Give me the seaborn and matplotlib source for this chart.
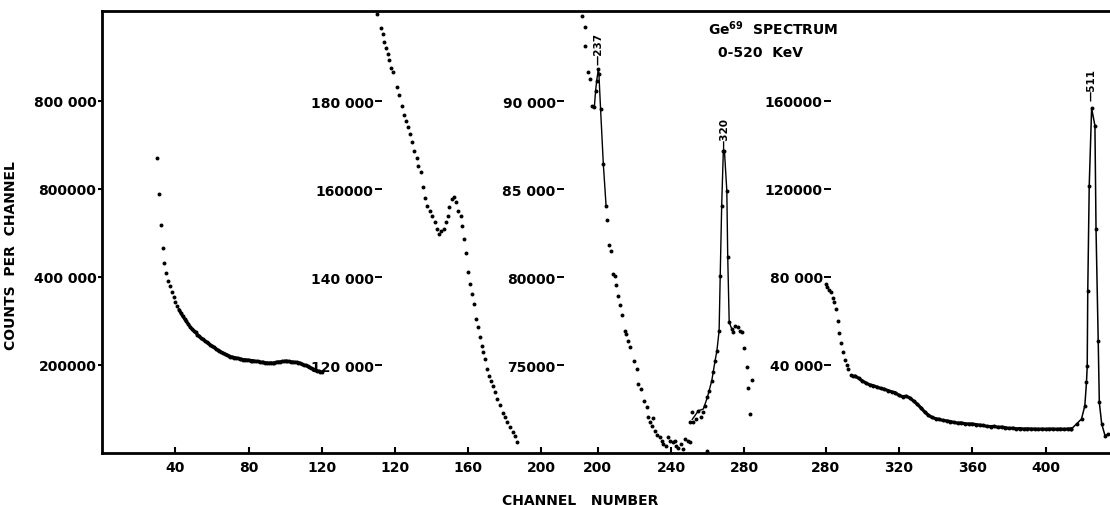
import matplotlib
matplotlib.use("Agg")
import matplotlib.pyplot as plt
import seaborn as sns
import pandas as pd

# ---------------- data ----------------
# Segment 1 : 0-120 channels, left scale 0 - 1 000 000
seg1_ch = list(range(30, 121))
seg1_counts = [670, 589, 519, 466, 432, 409, 392, 379, 367, 355, 344, 335, 326, 318, 311,
               305, 299, 293, 287, 282, 278, 274, 269, 265, 261, 258, 255, 252, 249, 246,
               243, 240, 237, 234, 232, 229, 227, 225, 223, 221, 219, 218, 217, 216, 215,
               214, 213, 212, 212, 211, 211, 210, 210, 209, 208, 208, 207, 206, 206, 205,
               205, 204, 205, 204, 205, 206, 207, 207, 208, 208, 209, 208, 208, 207, 207,
               206, 206, 205, 204, 202, 200, 199, 197, 195, 193, 191, 189, 187, 186, 185, 183]
seg1_counts = [v * 1000 for v in seg1_counts]

# Segment 2 : 120-200 channels, scale 100 000 - 200 000
seg2_ch = [110.5, 112.5, 113.5, 114.4, 115.2, 116.2, 116.9, 118.2, 119.3, 121.1, 122.5, 124.2,
           125.1, 126.2, 127.1, 128.3, 129.6, 130.7, 132.0, 132.9, 134.2, 135.3, 136.5, 137.8,
           139.2, 140.5, 142.0, 142.9, 144.2, 145.3, 146.9, 148.0, 148.9, 149.8, 151.1, 152.3,
           153.4, 154.7, 155.9, 156.8, 157.9, 159.0, 160.1, 161.0, 162.1, 163.2, 164.3, 165.4,
           166.5, 167.4, 168.3, 169.4, 170.5, 171.4, 172.3, 173.4, 174.6, 175.9, 177.4, 178.9,
           180.1, 181.4, 182.9, 184.3, 185.6, 186.8]
seg2_counts = [199.8, 196.5, 195.2, 193.5, 192.0, 190.7, 189.4, 187.5, 186.5, 183.2, 181.4, 178.9,
               176.8, 175.5, 174.0, 172.5, 170.6, 168.7, 167.0, 165.3, 163.8, 160.4, 157.9, 156.2,
               155.1, 153.8, 152.4, 150.9, 149.8, 150.5, 150.9, 152.4, 153.9, 155.8, 157.7, 158.1,
               157.0, 155.1, 153.9, 151.7, 148.6, 145.4, 141.2, 138.4, 136.1, 133.9, 130.5, 128.6,
               126.3, 124.4, 122.9, 121.4, 119.1, 117.6, 116.4, 115.3, 113.8, 112.3, 110.8, 109.2,
               108.1, 107.0, 105.8, 104.7, 103.9, 102.4]
seg2_counts = [v * 1000 for v in seg2_counts]

# Segment 3 : 200-280 channels, scale 70 000 - 95 000
seg3_ch = [191.6, 193.1, 193.1, 194.6, 195.8, 197.1, 198.2, 198.9, 199.5, 200.4, 200.7, 201.6,
           203.1, 204.6, 205.3, 206.2, 207.2, 208.3, 209.5, 209.9, 211.3, 212.2, 213.4, 214.9,
           215.3, 216.4, 217.6, 219.6, 221.3, 222.1, 223.6, 225.4, 226.7, 227.2, 228.5, 229.8,
           230.3, 231.2, 232.5, 234.0, 235.2, 235.8, 237.1, 238.2, 239.4, 240.9, 242.1, 242.7,
           243.9, 245.4, 246.7, 247.6, 249.4, 250.3, 250.3, 251.2, 252.1, 253.4, 254.9, 256.4,
           257.6, 258.6, 259.8, 260.9, 262.2, 263.1, 264.0, 265.0, 266.2, 266.8, 267.6, 268.5,
           269.1, 270.4, 270.9, 271.7, 273.1, 274.0, 274.9, 276.3, 277.6, 278.5, 279.9, 281.2,
           281.8, 284.0, 283.0, 259.8]
seg3_counts = [94.81, 94.19, 93.14, 91.63, 91.25, 89.73, 89.64, 90.59, 91.16, 91.82, 91.53, 89.55,
               86.42, 84.05, 83.26, 81.82, 81.49, 80.17, 80.07, 79.55, 78.94, 78.41, 77.84, 76.95,
               76.76, 76.38, 76.01, 75.24, 74.77, 73.92, 73.64, 72.97, 72.60, 72.03, 71.74, 71.55,
               71.97, 71.27, 71.02, 70.89, 70.70, 70.51, 70.41, 70.93, 70.70, 70.61, 70.70, 70.38,
               70.27, 70.51, 70.23, 70.80, 70.70, 70.61, 71.74, 72.31, 71.74, 71.93, 72.40, 72.03,
               72.31, 72.69, 73.16, 73.54, 74.11, 74.59, 75.24, 75.81, 76.95, 80.07, 84.05, 87.17,
               87.17, 84.90, 81.12, 77.43, 77.05, 76.86, 77.23, 77.14, 76.95, 76.86, 75.95, 74.87,
               73.68, 74.16, 72.22, 70.13]
seg3_counts = [v * 1000 for v in seg3_counts]

# hand-drawn curves through the 237 and 320 KeV peaks
peak237_ch = [197.1, 198.2, 198.9, 199.5, 200.4, 200.7, 201.6, 203.1, 204.6]
peak237_counts = [89.73e3, 89.64e3, 90.59e3, 91.16e3, 91.82e3, 91.53e3, 89.55e3, 86.42e3, 84.05e3]
peak320_ch = [251.5, 254.9, 257.6, 259.8, 262.2, 264.0, 265.0, 266.2, 266.8, 267.6, 268.5,
              269.1, 270.4, 270.9, 271.7, 273.1, 274.0]
peak320_counts = [71.9e3, 72.4e3, 72.5e3, 73.16e3, 74.11e3, 75.24e3, 75.81e3, 76.95e3, 80.07e3,
                  84.05e3, 87.17e3, 87.17e3, 84.90e3, 81.12e3, 77.43e3, 77.05e3, 76.86e3]

# Segment 4 : 280-435 channels, scale 0 - 200 000
seg4_dot_ch = [280.0, 280.8, 281.9, 283.0, 283.9, 284.6, 285.7, 286.6, 287.5, 288.4, 289.3,
               290.6, 291.5, 292.4, 293.7, 295.1]
seg4_dot_counts = [77.0, 75.5, 74.2, 73.0, 70.3, 68.8, 65.4, 60.1, 54.5, 49.8, 46.0, 42.4, 40.0,
                   38.2, 35.5, 34.9]
seg4_dot_counts = [v * 1000 for v in seg4_dot_counts]

seg4_ch = list(range(296, 415, 2))
seg4_counts = [35.0, 34.0, 32.8, 31.8, 31.0, 30.6, 30.0, 29.4, 29.0, 28.4, 27.8, 27.4, 26.2, 25.6,
               25.8, 25.0, 23.6, 22.2, 20.5, 18.7, 17.2, 16.2, 15.6, 15.3, 14.8, 14.6, 14.3, 13.9,
               13.6, 13.7, 13.3, 13.2, 13.2, 12.9, 12.7, 12.5, 12.1, 12.0, 12.1, 11.7, 11.8, 11.5,
               11.2, 11.3, 11.0, 11.1, 10.9, 11.0, 10.9, 10.9, 10.8, 10.9, 10.8, 10.9, 10.9, 10.8,
               10.9, 10.8, 10.9, 11.0]
seg4_counts = [v * 1000 for v in seg4_counts]

peak511_ch = [414.0, 416.8, 419.5, 421.3, 422.2, 422.6, 422.9, 423.7, 425.0, 426.8, 427.4,
              428.6, 429.2, 430.5, 432.3, 434.0]
peak511_counts = [11.0, 13.2, 15.5, 21.5, 32.1, 39.4, 73.5, 121.5, 156.7, 148.8, 101.8, 50.8,
                  23.0, 13.2, 7.9, 8.6]
peak511_counts = [v * 1000 for v in peak511_counts]

# tick values / labels
seg1_xticks = [40, 80, 120]
seg2_xticks = [120, 160, 200]
seg3_xticks = [200, 240, 280]
seg4_xticks = [280, 320, 360, 400]
seg1_yticks = [200000, 400000, 600000, 800000]
seg1_ylabels = ["200000", "400 000", "800000", "800 000"]
seg2_yticks = [120000, 140000, 160000, 180000]
seg2_ylabels = ["120 000", "140 000", "160000", "180 000"]
seg3_yticks = [75000, 80000, 85000, 90000]
seg3_ylabels = ["75000", "80000", "85 000", "90 000"]
seg4_yticks = [40000, 80000, 120000, 160000]
seg4_ylabels = ["40 000", "80 000", "120000", "160000"]

# ---------------- figure ----------------
sns.set_theme(style="white")
plt.rcParams["font.family"] = ["DejaVu Sans"]
plt.rcParams["font.weight"] = "bold"

W, H = 1110, 506
fig = plt.figure(figsize=(W / 100, H / 100), dpi=100)
rect = [102 / W, 52 / H, 1008 / W, 442 / H]
SPAN = 1008 / 1.835  # channels across the frame

FS = 10
INK = "black"


def make_axes(label, x0, ylim, xticks, yticks, ylabels, ypos, main=False):
    ax = fig.add_axes(rect, label=label)
    ax.set_xlim(x0, x0 + SPAN)
    ax.set_ylim(*ylim)
    ax.patch.set_alpha(0)
    ax.set_xticks(xticks)
    ax.set_xticklabels([str(t) for t in xticks])
    ax.set_yticks(yticks)
    ax.set_yticklabels(ylabels)
    ax.tick_params(axis="x", direction="in", length=4, width=1.5, pad=5,
                   labelsize=FS, colors=INK, bottom=True)
    for s in ["top", "right", "bottom", "left"]:
        ax.spines[s].set_visible(False)
    if main:
        for s in ["top", "bottom", "left"]:
            ax.spines[s].set_visible(True)
            ax.spines[s].set_linewidth(2.0)
            ax.spines[s].set_color(INK)
        ax.tick_params(axis="y", direction="out", length=3, width=1.5, pad=1,
                       labelsize=FS, colors=INK, left=True)
    else:
        ax.spines["left"].set_position(("axes", ypos))
        ax.tick_params(axis="y", direction="out", length=5, width=1.4, pad=1,
                       labelsize=FS, colors=INK, left=True)
    ax.grid(False)
    return ax


ax1 = make_axes("seg1", 0.0, (0, 1004545), seg1_xticks, seg1_yticks, seg1_ylabels, 0, main=True)
ax2 = make_axes("seg2", -39.5, (100000, 200455), seg2_xticks, seg2_yticks, seg2_ylabels, 0.2778)
ax3 = make_axes("seg3", -70.1, (70000, 95114), seg3_xticks, seg3_yticks, seg3_ylabels, 0.4583)
ax4 = make_axes("seg4", -114.3, (0, 200909), seg4_xticks, seg4_yticks, seg4_ylabels, 0.7232)

dot = dict(color=INK, s=8, linewidth=0, legend=False)

# segment 1
sns.lineplot(x=seg1_ch[12:], y=seg1_counts[12:], ax=ax1, color=INK, lw=2.3,
             sort=False, estimator=None)
sns.scatterplot(x=seg1_ch, y=seg1_counts, ax=ax1, **dot)

# segment 2
sns.scatterplot(x=seg2_ch, y=seg2_counts, ax=ax2, **dot)

# segment 3
sns.scatterplot(x=seg3_ch, y=seg3_counts, ax=ax3, **dot)
sns.lineplot(x=peak237_ch, y=peak237_counts, ax=ax3, color=INK, lw=1.0,
             sort=False, estimator=None)
sns.lineplot(x=peak320_ch, y=peak320_counts, ax=ax3, color=INK, lw=1.0,
             sort=False, estimator=None)

# segment 4
sns.scatterplot(x=seg4_dot_ch, y=seg4_dot_counts, ax=ax4, **dot)
sns.lineplot(x=seg4_ch, y=seg4_counts, ax=ax4, color=INK, lw=2.3,
             sort=False, estimator=None)
sns.scatterplot(x=seg4_ch, y=seg4_counts, ax=ax4, **dot)
sns.lineplot(x=peak511_ch, y=peak511_counts, ax=ax4, color=INK, lw=1.1,
             sort=False, estimator=None)
sns.scatterplot(x=peak511_ch, y=peak511_counts, ax=ax4, **dot)

for ax in (ax1, ax2, ax3, ax4):
    ax.set_xlabel("")
    ax.set_ylabel("")

# axis titles
ax1.set_ylabel("COUNTS  PER  CHANNEL", fontsize=FS, color=INK, fontweight="bold")
ax1.yaxis.set_label_coords(-0.083, 0.45)
ax1.set_xlabel("CHANNEL   NUMBER", fontsize=FS, color=INK, fontweight="bold")
ax1.xaxis.set_label_coords(0.474, -0.09)

# chart title
ax1.text(0.601, 0.9615, "Ge$^{\\mathbf{69}}$  SPECTRUM", transform=ax1.transAxes,
         fontsize=FS, fontweight="bold", ha="left", va="center", color=INK)
ax1.text(0.611, 0.907, "0-520  KeV", transform=ax1.transAxes,
         fontsize=FS, fontweight="bold", ha="left", va="center", color=INK)

# peak labels
pk = dict(rotation=90, ha="center", va="bottom", fontsize=7.5, fontweight="bold", color=INK)
ax3.text(200.3, 92.1e3, "\u2014237", **pk)
ax3.text(268.9, 87.3e3, "\u2014320", **pk)
ax4.text(425.1, 160.5e3, "\u2014511", **pk)

fig.savefig("out.png", dpi=100)
